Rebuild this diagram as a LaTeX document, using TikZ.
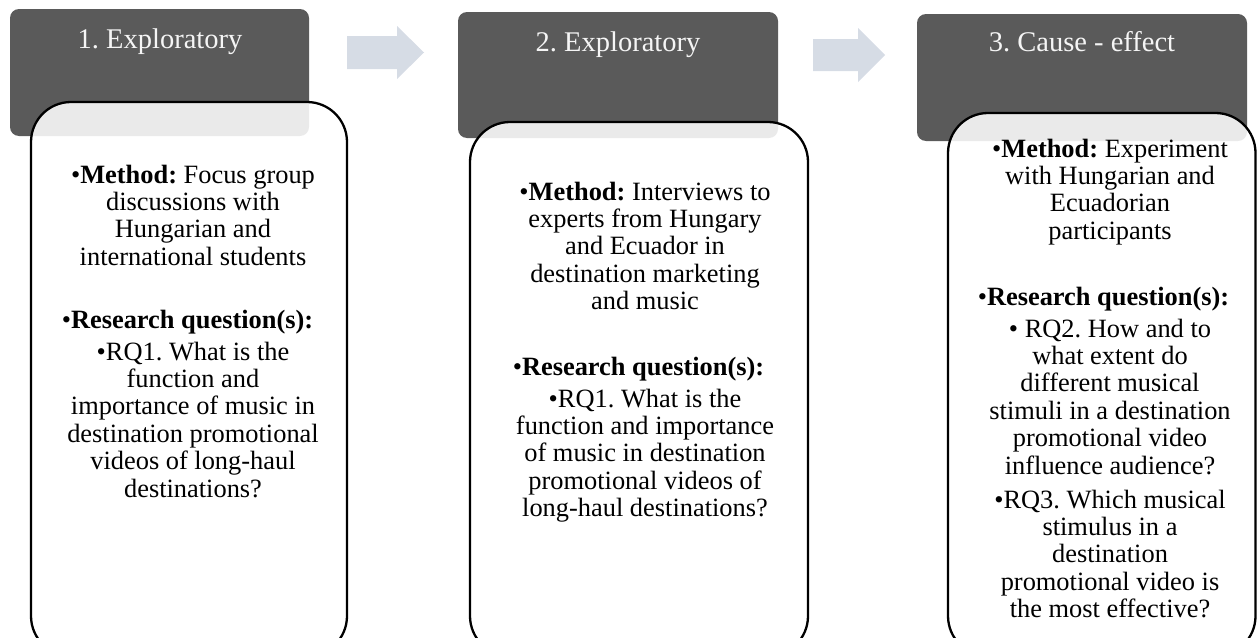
\documentclass[tikz,border=0pt]{standalone}
\usepackage{fontspec}
\setmainfont{Liberation Serif}
\definecolor{headgray}{HTML}{5A5A5A}
\definecolor{arrowcol}{HTML}{D6DCE5}
\definecolor{titlecol}{HTML}{F5F5F5}
\newcommand{\plines}[1]{\begin{tabular}[t]{@{}c@{}}#1\end{tabular}}
\newcommand{\bul}{\textbullet}
\frenchspacing
\begin{document}
\begin{tikzpicture}[x=1pt,y=-1pt,
  headbox/.style={fill=headgray, draw=none, rounded corners=9pt},
  bodybox/.style={draw=black, line width=2.3pt, fill=white, fill opacity=0.88, rounded corners=40pt},
  ttl/.style={text=titlecol, font=\fontsize{28.5}{30}\selectfont, anchor=base, inner sep=0},
  txt/.style={font=\fontsize{26.4}{27.4}\selectfont, anchor=base, inner sep=0},
  arr/.style={fill=arrowcol, draw=none}]
\useasboundingbox (0,0) rectangle (1257,637);
\clip (0,0) rectangle (1257,637);
% header boxes
\path[headbox] (10,9) rectangle (309,136);
\path[headbox] (458,12) rectangle (778,138);
\path[headbox] (917,14) rectangle (1247,141);
% arrows
\path[arr] (347,36) -- (397,36) -- (397,26) -- (424,52.5) -- (397,79) -- (397,69) -- (347,69) -- cycle;
\path[arr] (813,39) -- (858,39) -- (858,28) -- (885,55) -- (858,82) -- (858,71) -- (813,71) -- cycle;
% body boxes
\path[bodybox] (31,102) rectangle (347,656);
\path[bodybox] (470,122) rectangle (808,656);
\path[bodybox] (948,113) rectangle (1255.5,656);
% titles
\node[ttl] (t1) at (160,48.5) {1. Exploratory};
\node[ttl] (t2) at (618,51.7) {2. Exploratory};
\node[ttl] (t3) at (1082,51.7) {3. Cause - effect};
% box 1
\node[txt] (m1) at (193,183) {\plines{\bul\textbf{Method:} Focus group\hspace{11pt}\\ discussions with\\ Hungarian and\\ international students}};
\node[txt] (r1) at (187.5,328) {\bul\textbf{Research question(s):}};
\node[txt] (q1) at (193,360) {\plines{\bul RQ1. What is the\hspace{11pt}\\ function and\\ importance of music in\\ destination promotional\\ videos of long-haul\\ destinations?}};
% box 2
\node[txt] (m2) at (645,200) {\plines{\bul\textbf{Method:} Interviews to\hspace{11pt}\\ experts from Hungary\\ and Ecuador in\\ destination marketing\\ and music}};
\node[txt] (r2) at (638.5,375) {\bul\textbf{Research question(s):}};
\node[txt] (q2) at (645,407) {\plines{\bul RQ1. What is the\hspace{13pt}\\ function and importance\\ of music in destination\\ promotional videos of\\ long-haul destinations?}};
% box 3
\node[txt] (m3) at (1110,157) {\plines{\bul\textbf{Method:} Experiment\hspace{14pt}\\ with Hungarian and\\ Ecuadorian\\ participants}};
\node[txt] (r3) at (1103.5,305) {\bul\textbf{Research question(s):}};
\node[txt] (q3) at (1110,337) {\plines{\bul{} RQ2. How and to\hspace{26pt}\\ what extent do\\ different musical\\ stimuli in a destination\\ promotional video\\ influence audience?}};
\node[txt] (q4) at (1110,508) {\plines{\bul RQ3. Which musical\hspace{14pt}\\ stimulus in a\\ destination\\ promotional video is\\ the most effective?}};
\end{tikzpicture}
\end{document}
